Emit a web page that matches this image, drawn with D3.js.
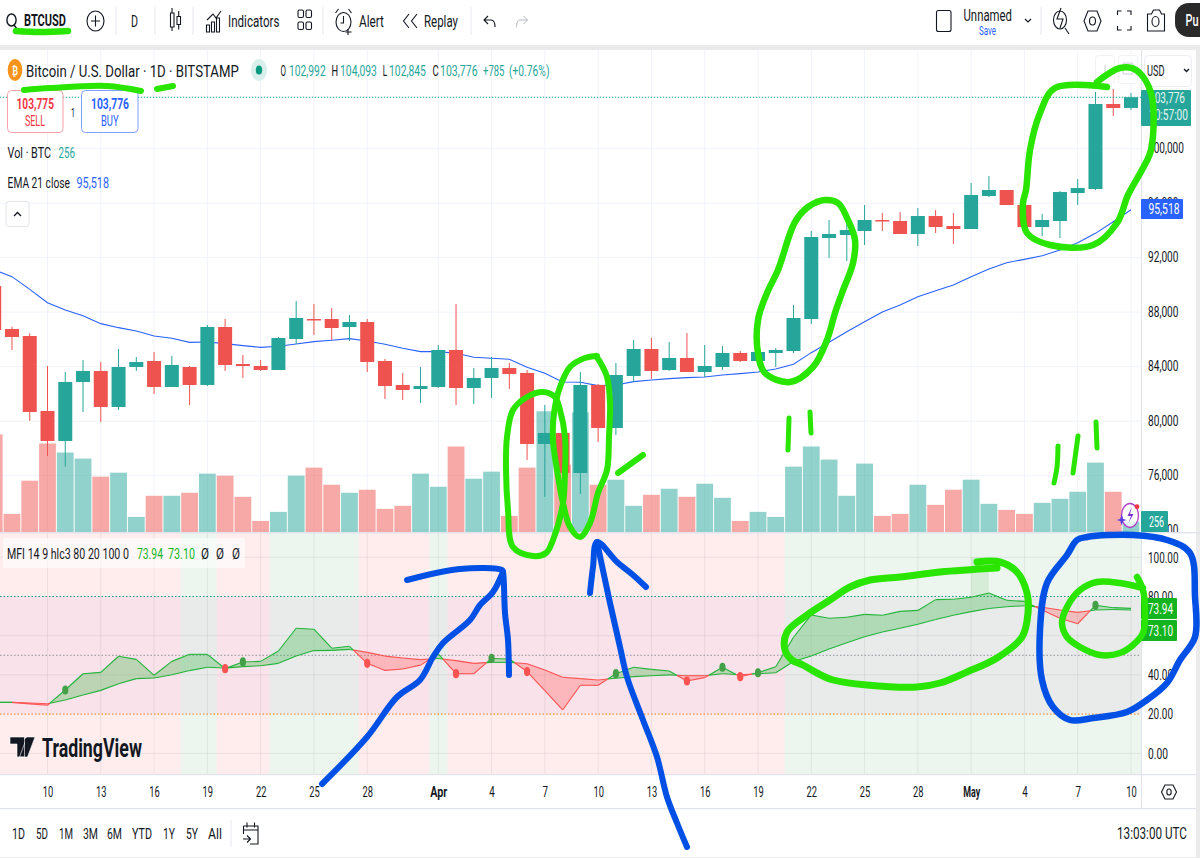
<!DOCTYPE html>
<html>
<head>
<meta charset="utf-8">
<title>BTCUSD daily chart</title>
<script src="https://cdn.jsdelivr.net/npm/d3@7/dist/d3.min.js"></script>
<style>
  html, body { margin: 0; padding: 0; background: #fff; overflow: hidden; }
  svg { display: block; font-family: Roboto, "Open Sans", sans-serif; }
</style>
</head>
<body>
<svg id="chart" width="1200" height="858" viewBox="0 0 1200 858"></svg>
<script>
// Daily BTC/USD session, 7 March to 10 May
const firstDay = "2025-03-07";
const openPrices = [89922,86768,86254,80751,78549,82878,83686,81044,83979,84419,82512,83979,82658,86914,84199,84052,83759,86034,87501,87501,86914,87281,84419,82658,82365,
  82512,85227,82438,83172,83906,83539,78329,79136,76200,82658,79503,83319,85300,83759,84640,83612,83979,85007,84419,85007,85153,87501,93445,93665,93959,94766,94693,93739,95059,94326,
  94106,96527,96967,95867,94252,94693,96747,97043,103280,102992];
const highPrices = [90500,86939,86450,84052,83612,84493,84346,85300,84713,85080,84786,84052,87061,87501,84860,84493,86180,88822,88602,88309,87795,87501,84566,83539,83979,
  85593,88602,83906,84713,84273,83759,81190,80000,83612,82732,84273,85960,86107,85814,86474,85593,85520,85153,85153,85373,88529,93959,94766,95060,95867,95280,95353,95647,95500,95280,
  97481,97995,96967,95867,95206,96894,97775,104161,104381,104093];
const lowPrices = [86200,85227,80016,77448,76666,80677,79943,80824,83686,81998,82512,81190,82585,83686,83172,83686,83759,85667,86327,85960,85887,83612,81631,81557,81337,
  82438,81190,81264,81704,82365,77155,74440,75900,74660,78475,78989,82878,83099,83686,83612,83245,83759,84346,84346,83979,85000,87134,91977,91757,92931,93959,93739,92858,93812,93005,
  94106,96454,95867,94100,93592,93445,95867,96970,102400,102845];
const closePrices = [86694,86180,80677,78549,82878,83686,81044,83979,84346,82512,84126,82658,86914,84126,84052,83759,86107,87575,87428,86841,87281,84346,82585,82291,82585,
  85227,82438,83172,83906,83466,78329,79136,76200,82658,79503,83392,85300,83686,84640,83612,84052,85007,84419,85080,85227,87575,93519,93739,94032,94766,94693,93739,95059,94252,94106,
  96600,96967,95867,94252,94766,96821,97114,103280,102987,103776];
const volumes = [2425,450,1275,2200,1975,1825,1375,1475,375,900,900,975,1450,1400,875,275,500,1400,1600,1175,975,1050,575,650,1450,
  1125,2125,1325,1500,400,1600,3000,1675,2975,1175,1300,650,925,1075,875,1200,850,275,500,375,1625,2125,1800,900,1700,400,450,1175,675,1050,
  1300,700,550,450,725,825,1000,1725,1000,256];
const emaValues = [91097,90608,89678,88700,88162,87746,87159,86865,86621,86254,86083,85789,85814,85691,85544,85422,85496,85667,85838,85936,86058,85887,85642,85349,85104,
  85104,84982,84689,84615,84542,83954,83514,82878,82854,82609,82658,82903,83025,83123,83196,83245,83392,83490,83612,83832,84175,85031,85789,86572,87306,88015,88529,89140,89581,90000,
  90608,91170,91635,91880,92149,92565,93103,93788,94644,95518];
const mfiValues = [26.0,26.0,25.2,24.5,32.3,40.6,41.3,49.5,47.9,39.8,46.9,50.5,50.5,43.2,46.6,46.9,52.2,63.8,63.3,53.6,54.6,45.9,42.3,43.0,45.0,
  50.7,40.6,40.6,48.4,48.1,41.7,32.0,22.1,34.7,34.7,40.6,43.9,42.8,42.0,36.9,38.6,43.9,39.1,41.1,44.2,59.2,70.6,68.9,69.4,70.9,70.4,72.4,72.9,78.4,78.6,
  79.6,81.8,78.1,77.5,73.1,68.9,66.1,75.5,74.3,73.94];
const signalValues = [26.0,26.0,25.7,25.3,27.2,29.7,32.1,35.5,38.1,38.4,40.1,42.2,43.9,43.5,44.2,44.7,45.9,49.6,52.4,52.5,53.0,51.5,49.6,48.6,47.8,
  48.4,47.3,45.9,46.4,46.4,45.7,42.5,38.8,38.1,37.4,38.3,39.1,39.6,40.0,39.6,39.6,40.6,40.1,40.6,41.1,46.8,49.6,53.2,56.4,59.5,61.9,63.8,65.8,68.3,70.4,
  72.3,73.9,74.8,75.3,74.5,73.1,71.9,73.1,73.4,73.10];

const priceTicks = [72000,76000,80000,84000,88000,92000,96000,100000];
const mfiTicks = [0,20,40,60,80,100];
const dateTicks = ["2025-03-10","2025-03-13","2025-03-16","2025-03-19","2025-03-22","2025-03-25","2025-03-28","2025-04-01","2025-04-04","2025-04-07","2025-04-10","2025-04-13","2025-04-16","2025-04-19","2025-04-22","2025-04-25","2025-04-28","2025-05-01","2025-05-04","2025-05-07","2025-05-10"];
const bullishDays = ["2025-03-18","2025-03-19","2025-03-23","2025-03-24","2025-03-25","2025-03-26","2025-03-27","2025-04-01"];
const bullishRunStart = "2025-04-21";
const bullCrossDays = ["2025-03-11","2025-03-21","2025-04-04","2025-04-11","2025-04-17","2025-04-19","2025-05-08"];
const bearCrossDays = ["2025-03-20","2025-03-28","2025-04-02","2025-04-06","2025-04-15","2025-04-18"];
const rangeButtons = [["1D",12,25],["5D",36,48],["1M",59,73],["3M",83,98],["6M",107,122],["YTD",132,152],["1Y",163,175],["5Y",186,198],["All",208,222]];

// Freehand markup on top of the chart
const greenStrokes = [
  {w:6.5, pts:[[16,31],[40,32],[68,31]]},
  {w:6, pts:[[24,90],[50,88],[107,86],[141,91]]},
  {w:6, pts:[[157,89],[173,86]]},
  {w:6, closed:true, pts:[[565,470],[563,503],[553,540],[546,553],[533,556],[513,547],[508,510],[506,470],[507,437],[513,410],[527,397],[543,392],[555,397],[560,410],[565,437]]},
  {w:6, pts:[[597,356],[585,358],[570,367],[560,387],[554,413],[553,440],[557,470],[563,503],[570,527],[580,537],[590,523],[598,493],[607,470],[609,437],[610,403],[607,377],[600,362],[596,356]]},
  {w:6, pts:[[618,473],[643,455]]},
  {w:5, pts:[[789,418],[788,450]]},
  {w:5, pts:[[810,412],[811,433]]},
  {w:6.5, closed:true, pts:[[778,270],[767,293],[758,320],[758,353],[765,373],[790,382],[813,367],[827,340],[835,313],[842,293],[853,263],[855,240],[848,220],[838,203],[825,200],[808,207],[795,222]]},
  {w:6.5, pts:[[1107,87],[1055,88],[1040,113],[1030,150],[1026,190],[1023,203],[1027,233],[1050,245],[1093,245],[1117,223],[1128,195],[1143,168],[1151,150],[1151,93],[1136,70],[1120,68],[1097,82]]},
  {w:5, pts:[[1058,446],[1057,467],[1054,483]]},
  {w:5, pts:[[1078,436],[1073,473]]},
  {w:5, pts:[[1096,422],[1097,448]]},
  {w:7, pts:[[997,568],[940,572],[900,577],[870,580],[850,587],[830,600],[807,615],[787,632],[785,650],[792,660],[803,665],[817,673],[833,680],[867,685],[917,687],[940,683],[967,672],[997,658],[1022,637],[1028,613],[1027,593],[1017,572],[1000,562],[977,562]]},
  {w:6.5, pts:[[1137,577],[1143,590],[1145,613],[1143,633],[1133,645],[1120,653],[1100,655],[1080,647],[1067,637],[1062,623],[1067,607],[1080,590],[1097,582],[1120,583],[1143,588]]}
];
const blueStrokes = [
  {w:6, pts:[[322,784],[367,737],[397,697],[420,680],[433,657],[443,643],[470,620],[480,605],[493,592],[503,572]]},
  {w:6, pts:[[407,580],[460,569],[502,570],[503,572],[505,613],[508,640],[509,675]]},
  {w:6, pts:[[597,542],[610,603],[620,647],[627,677],[643,720],[657,757],[667,797],[677,823],[687,847]]},
  {w:6, pts:[[590,593],[593,567],[597,542],[617,562],[633,575],[646,587]]},
  {w:6.5, closed:true, pts:[[1087,537],[1133,535],[1167,540],[1190,553],[1195,597],[1195,637],[1180,660],[1167,683],[1147,700],[1127,712],[1093,718],[1070,720],[1053,707],[1042,680],[1040,630],[1047,583],[1067,555],[1077,540]]}
];

const teal = "#26a69a", red = "#ef5350", tvBlue = "#2962ff", ink = "#131722";
const parseDay = d3.utcParse("%Y-%m-%d");
const days = d3.utcDay.range(parseDay(firstDay), d3.utcDay.offset(parseDay("2025-05-10"), 1));
const bars = days.map((date, i) => ({
  date, open: openPrices[i], high: highPrices[i], low: lowPrices[i], close: closePrices[i],
  volume: volumes[i], ema: emaValues[i], mfi: mfiValues[i], signal: signalValues[i]
}));
const byDay = new Map(bars.map(b => [+b.date, b]));

const plotRight = 1141;
const x = d3.scaleUtc().domain([parseDay("2025-03-10"), parseDay("2025-05-10")]).range([47.5, 1131]);
const y = d3.scaleLinear().domain([76000, 100000]).range([475.7, 148.7]);
const yVol = d3.scaleLinear().domain([0, 256]).range([532, 521.7]);
const yMfi = d3.scaleLinear().domain([0, 100]).range([753.3, 557.3]);
const dayStep = x(parseDay("2025-03-11")) - x(parseDay("2025-03-10"));

const svg = d3.select("#chart");
const defs = svg.append("defs");
defs.append("clipPath").attr("id", "pricePane").append("rect").attr("x", 0).attr("y", 50).attr("width", plotRight).attr("height", 482);
defs.append("clipPath").attr("id", "priceAxisPane").append("rect").attr("x", plotRight).attr("y", 50).attr("width", 60).attr("height", 482);
defs.append("clipPath").attr("id", "mfiPane").append("rect").attr("x", 0).attr("y", 533).attr("width", plotRight).attr("height", 241);
defs.append("clipPath").attr("id", "publishClip").append("rect").attr("x", 1160).attr("y", 0).attr("width", 40).attr("height", 45);

// Text helper: each string is narrowed horizontally to fit a known run width
function label(parent, text, x0, x1, yc, o = {}) {
  const t = parent.append("text")
    .attr("y", yc).attr("dy", "0.36em")
    .attr("font-size", o.size || 15).attr("font-weight", o.weight || 400)
    .attr("fill", o.fill || ink).text(text);
  const s = (x1 - x0) / t.node().getComputedTextLength();
  t.attr("transform", `translate(${x0},0) scale(${s},1)`);
  return t;
}

// Page frame
svg.append("rect").attr("width", 1200).attr("height", 858).attr("fill", "#fff");
svg.append("rect").attr("x", 0).attr("y", 45).attr("width", 1200).attr("height", 5).attr("fill", "#ebebeb");
svg.append("rect").attr("x", 1196).attr("y", 45).attr("width", 4).attr("height", 813).attr("fill", "#ebebeb");
svg.append("rect").attr("x", 0).attr("y", 857).attr("width", 1200).attr("height", 1).attr("fill", "#ebebeb");

// MFI pane background
const mfiPane = svg.append("g").attr("clip-path", "url(#mfiPane)");
mfiPane.append("rect").attr("x", 0).attr("y", 533).attr("width", plotRight).attr("height", 241).attr("fill", "#ffeded");
const halfDay = dayStep / 2;
const bullishCols = bullishDays.map(parseDay);
mfiPane.selectAll("rect.zone").data(bullishCols).join("rect").attr("class", "zone")
  .attr("x", d => x(d) - halfDay).attr("width", dayStep + 0.4).attr("y", 533).attr("height", 241).attr("fill", "#ecf6ee");
mfiPane.append("rect").attr("class", "zone")
  .attr("x", x(parseDay(bullishRunStart)) - halfDay).attr("width", plotRight - x(parseDay(bullishRunStart)) + halfDay)
  .attr("y", 533).attr("height", 241).attr("fill", "#ecf6ee");
mfiPane.append("rect").attr("x", x(parseDay("2025-05-01"))).attr("width", dayStep)
  .attr("y", yMfi(100)).attr("height", yMfi(80) - yMfi(100)).attr("fill", "#4caf50").attr("fill-opacity", 0.14);
mfiPane.append("rect").attr("x", 0).attr("width", plotRight).attr("y", yMfi(80)).attr("height", yMfi(20) - yMfi(80))
  .attr("fill", "rgb(200,136,202)").attr("fill-opacity", 0.1);

// Grid
const gridColor = "#f0f3fa", mfiGrid = "rgba(120,123,134,0.13)";
const tickDates = dateTicks.map(parseDay);
const priceGrid = svg.append("g").attr("clip-path", "url(#pricePane)");
priceGrid.selectAll("line.h").data(priceTicks).join("line").attr("class", "h")
  .attr("x1", 0).attr("x2", plotRight).attr("y1", y).attr("y2", y).attr("stroke", gridColor).attr("stroke-width", 1);
priceGrid.selectAll("line.v").data(tickDates).join("line").attr("class", "v")
  .attr("x1", x).attr("x2", x).attr("y1", 50).attr("y2", 532).attr("stroke", gridColor);
mfiPane.selectAll("line.h").data(mfiTicks.filter(t => t !== 80 && t !== 20)).join("line").attr("class", "h")
  .attr("x1", 0).attr("x2", plotRight).attr("y1", yMfi).attr("y2", yMfi).attr("stroke", mfiGrid);
mfiPane.selectAll("line.v").data(tickDates).join("line").attr("class", "v")
  .attr("x1", x).attr("x2", x).attr("y1", 533).attr("y2", 774).attr("stroke", mfiGrid);

// Volume, EMA, candles
const pricePane = svg.append("g").attr("clip-path", "url(#pricePane)");
pricePane.selectAll("rect.vol").data(bars).join("rect").attr("class", "vol")
  .attr("x", d => x(d.date) - 8.4).attr("width", 16.8)
  .attr("y", d => yVol(d.volume)).attr("height", d => yVol(0) - yVol(d.volume))
  .attr("fill", d => d.close >= d.open ? teal : red).attr("fill-opacity", 0.5);
pricePane.append("path").datum(bars)
  .attr("fill", "none").attr("stroke", tvBlue).attr("stroke-width", 1.1)
  .attr("d", d3.line().x(d => x(d.date)).y(d => y(d.ema)));
pricePane.selectAll("line.wick").data(bars).join("line").attr("class", "wick")
  .attr("x1", d => x(d.date)).attr("x2", d => x(d.date))
  .attr("y1", d => y(d.high)).attr("y2", d => y(d.low))
  .attr("stroke", d => d.close >= d.open ? teal : red).attr("stroke-width", 1);
pricePane.selectAll("rect.body").data(bars).join("rect").attr("class", "body")
  .attr("x", d => x(d.date) - 7).attr("width", 14)
  .attr("y", d => y(Math.max(d.open, d.close)))
  .attr("height", d => Math.max(1.5, Math.abs(y(d.open) - y(d.close))))
  .attr("fill", d => d.close >= d.open ? teal : red);
const lastBar = bars[bars.length - 1];
svg.append("line").attr("x1", 0).attr("x2", plotRight).attr("y1", y(lastBar.close)).attr("y2", y(lastBar.close))
  .attr("stroke", "#26a69a").attr("stroke-opacity", 0.22);
svg.append("line").attr("x1", 0).attr("x2", plotRight).attr("y1", y(lastBar.close)).attr("y2", y(lastBar.close))
  .attr("stroke", "#26a69a").attr("stroke-dasharray", "1 2").attr("stroke-width", 1);

// Horizontal levels of the MFI pane
[[80, "#089981"], [50, "#8f919a"], [20, "#f57f17"]].forEach(([level, color]) => {
  mfiPane.append("line").attr("x1", 0).attr("x2", plotRight).attr("y1", yMfi(level)).attr("y2", yMfi(level))
    .attr("stroke", color).attr("stroke-dasharray", "1.5 2");
});

// MFI against its signal: each stretch is filled and stroked by which line leads
const stretches = [];
for (let i = 0; i < bars.length - 1; i++) {
  const a = bars[i], b = bars[i + 1];
  const da = a.mfi - a.signal, db = b.mfi - b.signal;
  const p0 = {t: +a.date, m: a.mfi, s: a.signal}, p1 = {t: +b.date, m: b.mfi, s: b.signal};
  if (da * db < 0) {
    const f = da / (da - db);
    const mid = {t: p0.t + f * (p1.t - p0.t), m: a.mfi + f * (b.mfi - a.mfi), s: a.signal + f * (b.signal - a.signal)};
    stretches.push({up: da > 0, pts: [p0, mid]}, {up: db > 0, pts: [mid, p1]});
  } else {
    stretches.push({up: (da + db) >= 0, pts: [p0, p1]});
  }
}
const band = d3.area().x(p => x(new Date(p.t))).y0(p => yMfi(p.s)).y1(p => yMfi(p.m));
const mLine = d3.line().x(p => x(new Date(p.t))).y(p => yMfi(p.m));
const sLine = d3.line().x(p => x(new Date(p.t))).y(p => yMfi(p.s));
const mfiUp = "#22b43a", mfiDown = "#ff5252";
mfiPane.selectAll("path.fill").data(stretches).join("path").attr("class", "fill")
  .attr("d", d => band(d.pts)).attr("fill", d => d.up ? "#3fb849" : "#ff5252").attr("fill-opacity", d => d.up ? 0.33 : 0.3);
mfiPane.selectAll("path.mfi").data(stretches).join("path").attr("class", "mfi")
  .attr("d", d => mLine(d.pts)).attr("fill", "none").attr("stroke", d => d.up ? mfiUp : mfiDown).attr("stroke-width", 1.1);
mfiPane.selectAll("path.sig").data(stretches).join("path").attr("class", "sig")
  .attr("d", d => sLine(d.pts)).attr("fill", "none").attr("stroke", d => d.up ? mfiUp : mfiDown).attr("stroke-width", 1.1);
const crossDots = bullCrossDays.map(d => ({d: parseDay(d), c: "#43a047"})).concat(bearCrossDays.map(d => ({d: parseDay(d), c: "#ff5252"})));
mfiPane.selectAll("ellipse.cross").data(crossDots).join("ellipse").attr("class", "cross")
  .attr("cx", c => x(c.d)).attr("cy", c => yMfi(byDay.get(+c.d).mfi)).attr("rx", 3.1).attr("ry", 4.6).attr("fill", c => c.c);

// Pane dividers
svg.append("rect").attr("x", 0).attr("y", 532).attr("width", plotRight + 59).attr("height", 1.4).attr("fill", "#e0e3eb");
svg.append("line").attr("x1", plotRight + .5).attr("x2", plotRight + .5).attr("y1", 50).attr("y2", 808).attr("stroke", "#e0e3eb");
svg.append("rect").attr("x", 0).attr("y", 774).attr("width", 1196).attr("height", 1.2).attr("fill", "#e0e3eb");
svg.append("rect").attr("x", 0).attr("y", 808).attr("width", 1196).attr("height", 1.2).attr("fill", "#e0e3eb");

// Axes: tick labels are narrowed about their anchor to the same run widths
function squeezeAxis(g, widthOf) {
  g.select(".domain").remove();
  g.selectAll("text").attr("fill", ink).attr("transform", function () {
    const s = widthOf(this.textContent) / this.getComputedTextLength();
    const ax = +this.getAttribute("x") || 0;
    return `translate(${ax * (1 - s)},0) scale(${s},1)`;
  });
}
const priceAxis = svg.append("g").attr("clip-path", "url(#priceAxisPane)").append("g")
  .attr("transform", `translate(${plotRight},-1)`)
  .call(d3.axisRight(y).tickValues(priceTicks).tickSize(0).tickPadding(7).tickFormat(d3.format(",")))
  .attr("font-family", null).attr("font-size", 15);
squeezeAxis(priceAxis, t => t.length === 7 ? 36 : 30.5);
const mfiAxis = svg.append("g").attr("transform", `translate(${plotRight},0)`)
  .call(d3.axisRight(yMfi).tickValues(mfiTicks).tickSize(0).tickPadding(7).tickFormat(d3.format(".2f")))
  .attr("font-family", null).attr("font-size", 15);
squeezeAxis(mfiAxis, t => t.length === 6 ? 30.5 : t.length === 5 ? 25 : 20);
const monthFormat = d3.utcFormat("%b"), dayFormat = d3.utcFormat("%-d");
const timeAxis = svg.append("g").attr("transform", "translate(0,792)")
  .call(d3.axisBottom(x).tickValues(tickDates).tickSize(0).tickPadding(0)
    .tickFormat(d => d.getUTCDate() === 1 ? monthFormat(d) : dayFormat(d)))
  .attr("font-family", null).attr("font-size", 14.5);
timeAxis.selectAll("text").attr("dy", "0.36em").attr("font-weight", d => d.getUTCDate() === 1 ? 700 : 400);
squeezeAxis(timeAxis, t => /[A-Z]/.test(t) ? 17 : t.length === 2 ? 10.5 : 5.5);

// Axis tags
function tag(x0, x1, y0, y1, fill) {
  svg.append("rect").attr("x", x0).attr("y", y0).attr("width", x1 - x0).attr("height", y1 - y0).attr("rx", 1).attr("fill", fill);
}
tag(1141, 1191, 90, 126, teal);
label(svg, "103,776", 1149, 1185, 98, {size: 15, fill: "#e8f5f3"});
label(svg, "10:57:00", 1149, 1188, 115, {size: 15, fill: "#e8f5f3"});
tag(1141, 1183, 199, 219, tvBlue);
label(svg, d3.format(",")(lastBar.ema), 1148.5, 1179.5, 209, {size: 15, fill: "#fff"});
tag(1141, 1168, 511, 532, teal);
label(svg, String(lastBar.volume), 1149, 1164, 521.5, {size: 15, fill: "#fff"});
tag(1141, 1177, 598, 619, "#13b41f");
label(svg, d3.format(".2f")(lastBar.mfi), 1148, 1173, 609, {size: 15, fill: "#fff"});
tag(1141, 1177, 620, 641, "#13b41f");
label(svg, d3.format(".2f")(lastBar.signal), 1148, 1173, 630.5, {size: 15, fill: "#fff"});

// Currency selector and pane buttons
svg.append("rect").attr("x", 1144.5).attr("y", 55.5).attr("width", 47).attr("height", 31).attr("rx", 4).attr("fill", "#fff").attr("stroke", "#eceef2");
label(svg, "USD", 1147, 1164.5, 70.5, {size: 14});
svg.append("path").attr("d", "M1184 69l2.5 2.5 2.5-2.5").attr("fill", "none").attr("stroke", ink).attr("stroke-width", 1.3);
svg.append("rect").attr("x", 1095.5).attr("y", 55.5).attr("width", 19).attr("height", 28).attr("rx", 3).attr("fill", "#fff").attr("fill-opacity", .6).attr("stroke", "#f0f1f4");
svg.append("path").attr("d", "M1105 65v15M1101.5 76l3.5 4 3.5-4").attr("fill", "none").attr("stroke", "#c9ccd3");
svg.append("rect").attr("x", 1118.5).attr("y", 55.5).attr("width", 19).attr("height", 28).attr("rx", 3).attr("fill", "#fff").attr("fill-opacity", .6).attr("stroke", "#f0f1f4");
svg.append("rect").attr("x", 1123).attr("y", 63).attr("width", 10).attr("height", 11).attr("rx", 1).attr("fill", "none").attr("stroke", "#c9ccd3");

// Top toolbar
const toolbar = svg.append("g");
const iconStroke = g => g.attr("fill", "none").attr("stroke", ink).attr("stroke-width", 1.1);
toolbar.append("ellipse").attr("cx", 11.5).attr("cy", 20).attr("rx", 4.6).attr("ry", 6).attr("fill", "none").attr("stroke", ink).attr("stroke-width", 1.4);
toolbar.append("path").attr("d", "M14 25l3 4").attr("stroke", ink).attr("stroke-width", 1.4);
label(toolbar, "BTCUSD", 24, 66, 20.5, {size: 16.5, weight: 700});
toolbar.append("ellipse").attr("cx", 95.5).attr("cy", 21).attr("rx", 8.5).attr("ry", 10).call(iconStroke);
toolbar.append("path").attr("d", "M91 21h9M95.5 15.5v11").call(iconStroke);
[116, 155, 193, 323, 471, 1041].forEach(v => toolbar.append("line").attr("x1", v).attr("x2", v).attr("y1", 7).attr("y2", 35).attr("stroke", "#e6e8ee"));
label(toolbar, "D", 131, 138, 21, {size: 16.5});
toolbar.append("path").attr("d", "M170.5 13h3.5v14h-3.5zM172 8v5M172 27v4M177 16.5h3.5v8h-3.5zM178.7 11v5M178.7 24.5v5").call(iconStroke);
toolbar.append("path").attr("d", "M206.5 32v-7h3v7zM211.5 32v-10h3v10zM216.5 32v-14h3v14zM207 20l6-6 3 4 5-7").call(iconStroke);
label(toolbar, "Indicators", 228, 279.5, 21.5, {size: 16.5});
[[298,10],[306,10],[298,22],[306,22]].forEach(([a, b]) => toolbar.append("rect").attr("x", a).attr("y", b).attr("width", 5.5).attr("height", 7.5).attr("rx", 1.5).call(iconStroke));
toolbar.append("ellipse").attr("cx", 343.5).attr("cy", 22).attr("rx", 7.5).attr("ry", 9.5).call(iconStroke);
toolbar.append("path").attr("d", "M343.5 16v7h-3M335.5 13l3-4M351.5 13l-3-4M348 29v6M345.5 32h6").call(iconStroke);
label(toolbar, "Alert", 359, 384, 21.5, {size: 16.5});
toolbar.append("path").attr("d", "M409 14l-5.5 7 5.5 7M417 14l-5.5 7 5.5 7").call(iconStroke);
label(toolbar, "Replay", 424, 458, 21.5, {size: 16.5});
toolbar.append("path").attr("d", "M488 16l-4 4 4 4M484 20h7c3 0 4 3 4 7").call(iconStroke);
toolbar.append("path").attr("d", "M523.5 16l4 4-4 4M527.5 20h-7c-3 0-4 3-4 7").attr("fill", "none").attr("stroke", "#b2b5be");
toolbar.append("rect").attr("x", 936.5).attr("y", 10.5).attr("width", 14.5).attr("height", 21).attr("rx", 2).call(iconStroke);
label(toolbar, "Unnamed", 963.5, 1012, 15, {size: 16.5});
label(toolbar, "Save", 979, 996, 30.5, {size: 12.5, fill: tvBlue});
toolbar.append("path").attr("d", "M1025 19l3 3 3-3").call(iconStroke);
toolbar.append("ellipse").attr("cx", 1060).attr("cy", 20).attr("rx", 6.5).attr("ry", 9).call(iconStroke);
toolbar.append("path").attr("d", "M1061 8l-4 11h6l-3 9M1065 28l4 6").call(iconStroke);
toolbar.append("path").attr("d", "M1088 11h9l4 10-4 10h-9l-4-10z").call(iconStroke);
toolbar.append("ellipse").attr("cx", 1092.5).attr("cy", 21).attr("rx", 3).attr("ry", 4).call(iconStroke);
toolbar.append("path").attr("d", "M1117.5 15v-4h4M1127 11h4v4M1131 26v4h-4M1121.5 30h-4v-4").call(iconStroke);
toolbar.append("path").attr("d", "M1147.5 14h4l2-4h6l2 4h3v17h-17z").call(iconStroke);
toolbar.append("ellipse").attr("cx", 1155.5).attr("cy", 21.5).attr("rx", 3.5).attr("ry", 5).call(iconStroke);
const publish = toolbar.append("g").attr("clip-path", "url(#publishClip)");
publish.append("rect").attr("x", 1175).attr("y", 3).attr("width", 60).attr("height", 34).attr("rx", 14).attr("fill", "#2a2a2a");
label(publish, "Pu", 1185.5, 1198.5, 20.5, {size: 16, weight: 500, fill: "#fff"});

// Chart legend
const legend = svg.append("g");
legend.append("ellipse").attr("cx", 15).attr("cy", 70).attr("rx", 7.3).attr("ry", 11).attr("fill", "#f7931a");
label(legend, "₿", 12, 18, 70.5, {size: 12, weight: 700, fill: "#fff"});
label(legend, "Bitcoin / U.S. Dollar · 1D · BITSTAMP", 26, 239, 71, {size: 16.5});
legend.append("ellipse").attr("cx", 259).attr("cy", 70).attr("rx", 8).attr("ry", 11).attr("fill", "#d8efeb");
legend.append("ellipse").attr("cx", 259).attr("cy", 70).attr("rx", 3.2).attr("ry", 4.6).attr("fill", "#089981");
const fmt = d3.format(",");
[["O", 280.5, 286, ink], [fmt(lastBar.open), 289, 325.7, teal], ["H", 331.4, 338, ink], [fmt(lastBar.high), 340, 377, teal],
 ["L", 382.7, 387, ink], [fmt(lastBar.low), 389, 426, teal], ["C", 432.4, 438.6, ink], [fmt(lastBar.close), 440, 477.6, teal],
 ["+785", 483, 504.4, teal], ["(+0.76%)", 509, 549.5, teal]].forEach(([t, a, b, c]) => label(legend, t, a, b, 71, {size: 15, fill: c}));

// Order ticket buttons
legend.append("rect").attr("x", 7.5).attr("y", 90.5).attr("width", 55.5).attr("height", 42).attr("rx", 4).attr("fill", "#fff").attr("stroke", "#f7a1a9");
label(legend, "103,775", 16.5, 54, 104, {size: 15, weight: 700, fill: "#f23645"});
label(legend, "SELL", 25, 45, 121, {size: 14, fill: "#f23645"});
label(legend, "1", 71, 75, 112, {size: 13});
legend.append("rect").attr("x", 81.5).attr("y", 90.5).attr("width", 56.5).attr("height", 42).attr("rx", 4).attr("fill", "#fff").attr("stroke", "#7fa0ff");
label(legend, "103,776", 91, 129, 104, {size: 15, weight: 700, fill: tvBlue});
label(legend, "BUY", 101, 118.6, 121, {size: 14, fill: tvBlue});
label(legend, "Vol · BTC", 7.6, 51, 153, {size: 15});
label(legend, String(lastBar.volume), 58.5, 75, 153, {size: 15, fill: teal});
label(legend, "EMA 21 close", 7.6, 70, 183, {size: 15});
label(legend, fmt(lastBar.ema), 76.5, 109, 183, {size: 15, fill: tvBlue});
legend.append("rect").attr("x", 6).attr("y", 201.5).attr("width", 23).attr("height", 25).attr("rx", 3).attr("fill", "#fff").attr("stroke", "#e0e3eb");
legend.append("path").attr("d", "M14 216l3.5-3.5 3.5 3.5").attr("fill", "none").attr("stroke", ink).attr("stroke-width", 1.3);

// MFI legend
legend.append("rect").attr("x", 3).attr("y", 538).attr("width", 242).attr("height", 30).attr("rx", 2).attr("fill", "#fff").attr("fill-opacity", .6);
label(legend, "MFI 14 9 hlc3 80 20 100 0", 7, 129, 554, {size: 15});
label(legend, d3.format(".2f")(lastBar.mfi), 137, 163, 554, {size: 15, fill: "#13b41f"});
label(legend, d3.format(".2f")(lastBar.signal), 168, 195, 554, {size: 15, fill: "#13b41f"});
[[201, 209], [216, 224], [232, 240]].forEach(([a, b]) => label(legend, "Ø", a, b, 554, {size: 15}));

// Watermark
const mark = svg.append("g");
mark.append("path").attr("d", "M10 737h14.5v20h-7.5v-13h-7zM35 737l-7.5 20h-8l7.5-20z").attr("fill", "#131722").attr("stroke", "#fff").attr("stroke-width", .6);
mark.append("ellipse").attr("cx", 27.5).attr("cy", 741).attr("rx", 2.8).attr("ry", 3.6).attr("fill", "#131722");
label(mark, "TradingView", 42, 142, 748, {size: 25, weight: 700}).attr("stroke", "#fff").attr("stroke-width", .5).attr("paint-order", "stroke");

// Assistant badge beside the volume tag
const badge = svg.append("g");
badge.append("ellipse").attr("cx", 1130).attr("cy", 515.5).attr("rx", 8.5).attr("ry", 12).attr("fill", "#fff").attr("fill-opacity", .75).attr("stroke", "#b23cc8").attr("stroke-width", 1.3);
badge.append("path").attr("d", "M1132 507l-4.5 9h3.5l-2.5 7 5-9h-3.5z").attr("fill", "#7c2fd0");
badge.append("path").attr("d", "M1121.7 514.5l1.5 4.5 3.5 1-3.5 1-1.5 4.5-1.5-4.5-3.5-1 3.5-1z").attr("fill", "#5b3ee0");
badge.append("circle").attr("cx", 1137).attr("cy", 506.7).attr("r", 2.4).attr("fill", "#f23645");

// Settings hexagon, bottom bar
const bottomBar = svg.append("g");
bottomBar.append("path").attr("d", "M1165 785h8l3.5 7-3.5 7h-8l-3.5-7z").attr("fill", "none").attr("stroke", ink).attr("stroke-width", 1.1);
bottomBar.append("ellipse").attr("cx", 1169).attr("cy", 792).attr("rx", 2.2).attr("ry", 3).attr("fill", "none").attr("stroke", ink).attr("stroke-width", 1.1);
rangeButtons.forEach(([t, a, b]) => label(bottomBar, t, a, b, 833, {size: 15.5}));
bottomBar.append("line").attr("x1", 231).attr("x2", 231).attr("y1", 820).attr("y2", 847).attr("stroke", "#e6e8ee");
bottomBar.append("path").attr("d", "M243.5 826h14.5v18h-8M243.5 826v8M247 822.5v5M254.5 822.5v5M243.5 830h14.5M243 839h7M247 835.5l3.5 3.5-3.5 3.5").attr("fill", "none").attr("stroke", ink).attr("stroke-width", 1.1);
label(bottomBar, "13:03:00 UTC", 1117, 1187, 833, {size: 16});

// Freehand markup
const strokeLine = d3.line().curve(d3.curveCatmullRom.alpha(0.5));
const closedLine = d3.line().curve(d3.curveCatmullRomClosed.alpha(0.5));
const markup = svg.append("g").attr("fill", "none").attr("stroke-linecap", "round").attr("stroke-linejoin", "round");
markup.selectAll("path.blue").data(blueStrokes).join("path").attr("class", "blue")
  .attr("d", s => (s.closed ? closedLine : strokeLine)(s.pts)).attr("stroke", "#0050e6").attr("stroke-width", s => s.w);
markup.selectAll("path.green").data(greenStrokes).join("path").attr("class", "green")
  .attr("d", s => (s.closed ? closedLine : strokeLine)(s.pts)).attr("stroke", "#2ae500").attr("stroke-width", s => s.w);
</script>
</body>
</html>
